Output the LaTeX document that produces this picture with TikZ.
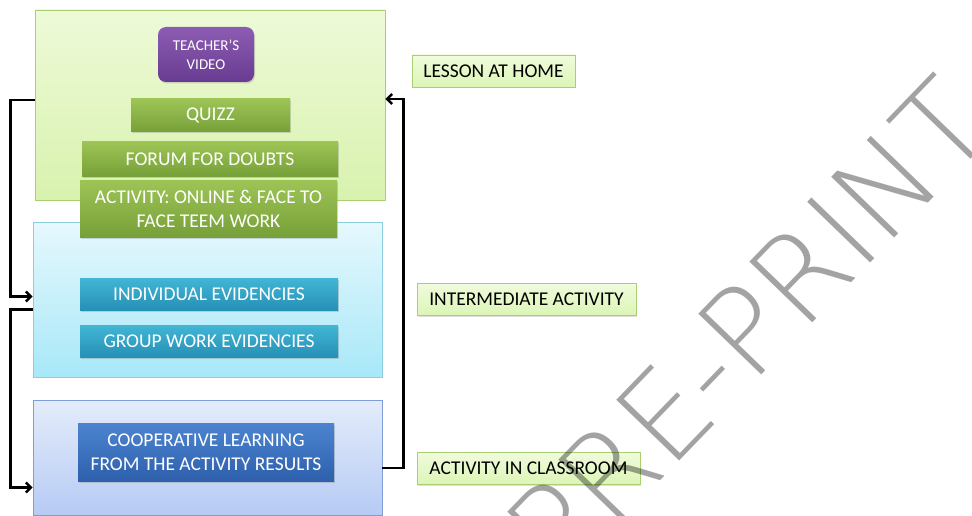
\documentclass[tikz,border=0pt]{standalone}
\usepackage{fontspec}
\setmainfont{Carlito}
\newfontfamily\wmfont{DejaVu Sans ExtraLight}
\usetikzlibrary{arrows.meta,shadows}

\definecolor{homeborder}{HTML}{A9CF72}
\definecolor{midborder}{HTML}{8CCDE0}
\definecolor{classborder}{HTML}{7F9DD9}

\begin{document}
\begin{tikzpicture}
  [x=1pt,y=-1pt,
   stage/.style={rectangle,draw,line width=0.8pt,inner sep=0pt},
   item/.style={rectangle,inner sep=0pt,text=white,align=center,
     font=\fontsize{19.5}{24}\selectfont,
     drop shadow={shadow xshift=1pt,shadow yshift=-1.5pt,opacity=0.3}},
   greenitem/.style={item,top color={rgb,255:red,158;green,196;blue,86},bottom color={rgb,255:red,118;green,160;blue,56}},
   tealitem/.style={item,top color={rgb,255:red,66;green,182;blue,212},bottom color={rgb,255:red,38;green,144;blue,182}},
   blueitem/.style={item,top color={rgb,255:red,76;green,132;blue,208},bottom color={rgb,255:red,46;green,96;blue,172}},
   tag/.style={rectangle,draw=homeborder,line width=0.8pt,inner sep=0pt,
     top color={rgb,255:red,240;green,251;blue,221},bottom color={rgb,255:red,220;green,245;blue,182},
     font=\fontsize{19.5}{24}\selectfont,
     drop shadow={shadow xshift=1pt,shadow yshift=-1.5pt,opacity=0.25}},
   flow/.style={line width=2.4pt,-{Straight Barb[length=5pt,width=10pt]}}]
  \useasboundingbox (0,0) rectangle (972,516);

  % the three stages
  \node[stage,draw=homeborder,minimum width=350,minimum height=190,
    top color={rgb,255:red,238;green,250;blue,216},bottom color={rgb,255:red,216;green,242;blue,174}]
    (nhome) at (210,105) {};
  \node[stage,draw=midborder,minimum width=349,minimum height=155,
    top color={rgb,255:red,230;green,248;blue,253},bottom color={rgb,255:red,168;green,232;blue,248}]
    (nmid) at (207.5,299.5) {};
  \node[stage,draw=classborder,minimum width=349,minimum height=115,
    top color={rgb,255:red,228;green,236;blue,251},bottom color={rgb,255:red,182;green,203;blue,244}]
    (nclass) at (207.5,457.5) {};

  % lesson at home
  \node[item,rounded corners=8pt,minimum width=96,minimum height=55,
    font=\fontsize{15}{19}\selectfont,
    top color={rgb,255:red,140;green,92;blue,178},bottom color={rgb,255:red,104;green,60;blue,146}]
    (nvideo) at (206,54.5) {TEACHER'S\\VIDEO};
  \node[greenitem,minimum width=159,minimum height=33] (nquiz) at (210.5,115.5) {QUIZZ};
  \node[greenitem,minimum width=256,minimum height=34] (nforum) at (210,159) {FORUM FOR DOUBTS};
  \node[greenitem,minimum width=257,minimum height=57] (nact) at (208.5,208.5)
    {ACTIVITY: ONLINE \& FACE TO\\FACE TEEM WORK};

  % intermediate activity
  \node[tealitem,minimum width=258,minimum height=32] (nind) at (209,294) {INDIVIDUAL EVIDENCIES};
  \node[tealitem,minimum width=258,minimum height=32] (ngroup) at (209,341) {GROUP WORK EVIDENCIES};

  % classroom
  \node[blueitem,minimum width=256,minimum height=58] (ncoop) at (206,452)
    {COOPERATIVE LEARNING\\FROM THE ACTIVITY RESULTS};

  % stage labels
  \node[tag,minimum width=163,minimum height=32] (lhome) at (493.5,71) {LESSON AT HOME};
  \node[tag,minimum width=219,minimum height=32] (lmid) at (526.5,299) {INTERMEDIATE ACTIVITY};
  \node[tag,minimum width=223,minimum height=32] (lclass) at (528.5,468) {ACTIVITY IN CLASSROOM};

  % cycle
  \draw[flow] ([yshift=5pt]nhome.west) -- ++(-24,0) |- ([yshift=3pt]nmid.west);
  \draw[flow] ([yshift=-10pt]nmid.west) -- ++(-22,0) |- ([yshift=-30pt]nclass.west);
  \draw[flow] ([yshift=-10.5pt]nclass.east) -- ++(21,0) |- ([yshift=6pt]nhome.east);

  \node[rotate=46,text=black,text opacity=0.36,font=\wmfont\fontsize{120}{120}\selectfont]
    (wm) at (748,327) {PRE-PRINT};
\end{tikzpicture}
\end{document}
